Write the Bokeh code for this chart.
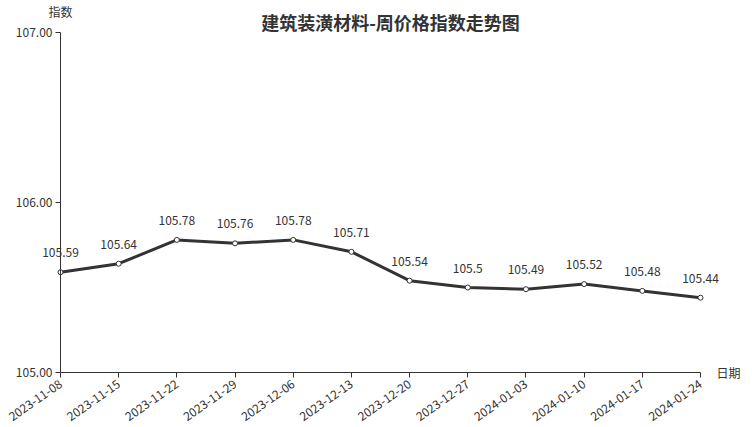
import math
from bokeh.plotting import figure
from bokeh.models import Range1d, FixedTicker, Label, ColumnDataSource, NumeralTickFormatter
from bokeh.core.properties import value
from bokeh.embed import file_html
from bokeh.resources import INLINE

dates = ["2023-11-08", "2023-11-15", "2023-11-22", "2023-11-29", "2023-12-06", "2023-12-13",
         "2023-12-20", "2023-12-27", "2024-01-03", "2024-01-10", "2024-01-17", "2024-01-24"]
values = [105.59, 105.64, 105.78, 105.76, 105.78, 105.71, 105.54, 105.5, 105.49, 105.52, 105.48, 105.44]
value_labels = ["105.59", "105.64", "105.78", "105.76", "105.78", "105.71", "105.54", "105.5",
                "105.49", "105.52", "105.48", "105.44"]
y_ticks = [105.0, 106.0, 107.0]
y_min, y_max = 105.0, 107.0
title_text = "建筑装潢材料-周价格指数走势图"
y_name = "指数"
x_name = "日期"

FONT = "Noto Sans CJK SC"
TXT = "#333333"

W, H = 752, 427
# plotting area (in pixels) inside the canvas
PL, PR, PT, PB = 60, 700, 32, 372
n = len(dates)
xs_per_px = (n - 1) / (PR - PL)
ys_per_px = (y_max - y_min) / (PB - PT)
x_start = 0 - PL * xs_per_px
x_end = x_start + W * xs_per_px
y_end = y_max + PT * ys_per_px
y_start = y_end - H * ys_per_px

p = figure(width=W, height=H, output_backend="svg", toolbar_location=None,
           x_range=Range1d(x_start, x_end), y_range=Range1d(y_start, y_end),
           min_border=0)
p.outline_line_color = None
p.xgrid.visible = False
p.ygrid.visible = False
p.background_fill_color = "white"
p.border_fill_color = "white"

idx = list(range(n))
src = ColumnDataSource(dict(x=idx, y=values, t=value_labels))

p.line("x", "y", source=src, line_color="#333333", line_width=3)
p.scatter("x", "y", source=src, size=5, fill_color="white", line_color="#333333", line_width=1)
p.text("x", "y", text="t", source=src, text_font=value(FONT), text_font_size="12px",
       text_color=TXT, text_align="center", text_baseline="bottom", y_offset=-15)

# axes
for ax in (p.xaxis[0], p.yaxis[0]):
    ax.axis_line_color = "#333333"
    ax.axis_line_width = 1
    ax.major_tick_line_color = "#333333"
    ax.minor_tick_line_color = None
    ax.major_label_text_font = FONT
    ax.major_label_text_font_size = "12px"
    ax.major_label_text_color = TXT

p.xaxis.fixed_location = y_min
p.xaxis.ticker = FixedTicker(ticks=idx)
p.xaxis.major_label_overrides = {i: d for i, d in enumerate(dates)}
p.xaxis.major_label_orientation = math.radians(35)
p.xaxis.major_tick_in = 0
p.xaxis.major_tick_out = 5
p.xaxis.bounds = (0, n - 1)

p.yaxis.fixed_location = 0
p.yaxis.ticker = FixedTicker(ticks=y_ticks)
p.yaxis.formatter = NumeralTickFormatter(format="0.00")
p.yaxis.major_tick_in = 0
p.yaxis.major_tick_out = 5
p.yaxis.major_label_standoff = 3
p.yaxis.bounds = (y_min, y_max)

p.add_layout(Label(x=(n - 1) / 2, y=y_max, x_offset=10, y_offset=11, text=title_text, text_font=FONT,
                   text_font_size="18px", text_font_style="bold", text_color="#333333",
                   text_align="center", text_baseline="middle"))
p.add_layout(Label(x=0, y=y_max, x_offset=0, y_offset=21, text=y_name, text_font=FONT,
                   text_font_size="12px", text_color=TXT, text_align="center",
                   text_baseline="middle"))
p.add_layout(Label(x=n - 1, y=y_min, x_offset=16, y_offset=0, text=x_name, text_font=FONT,
                   text_font_size="12px", text_color=TXT, text_align="left",
                   text_baseline="middle"))

open("out.html", "w").write(file_html(p, INLINE))
